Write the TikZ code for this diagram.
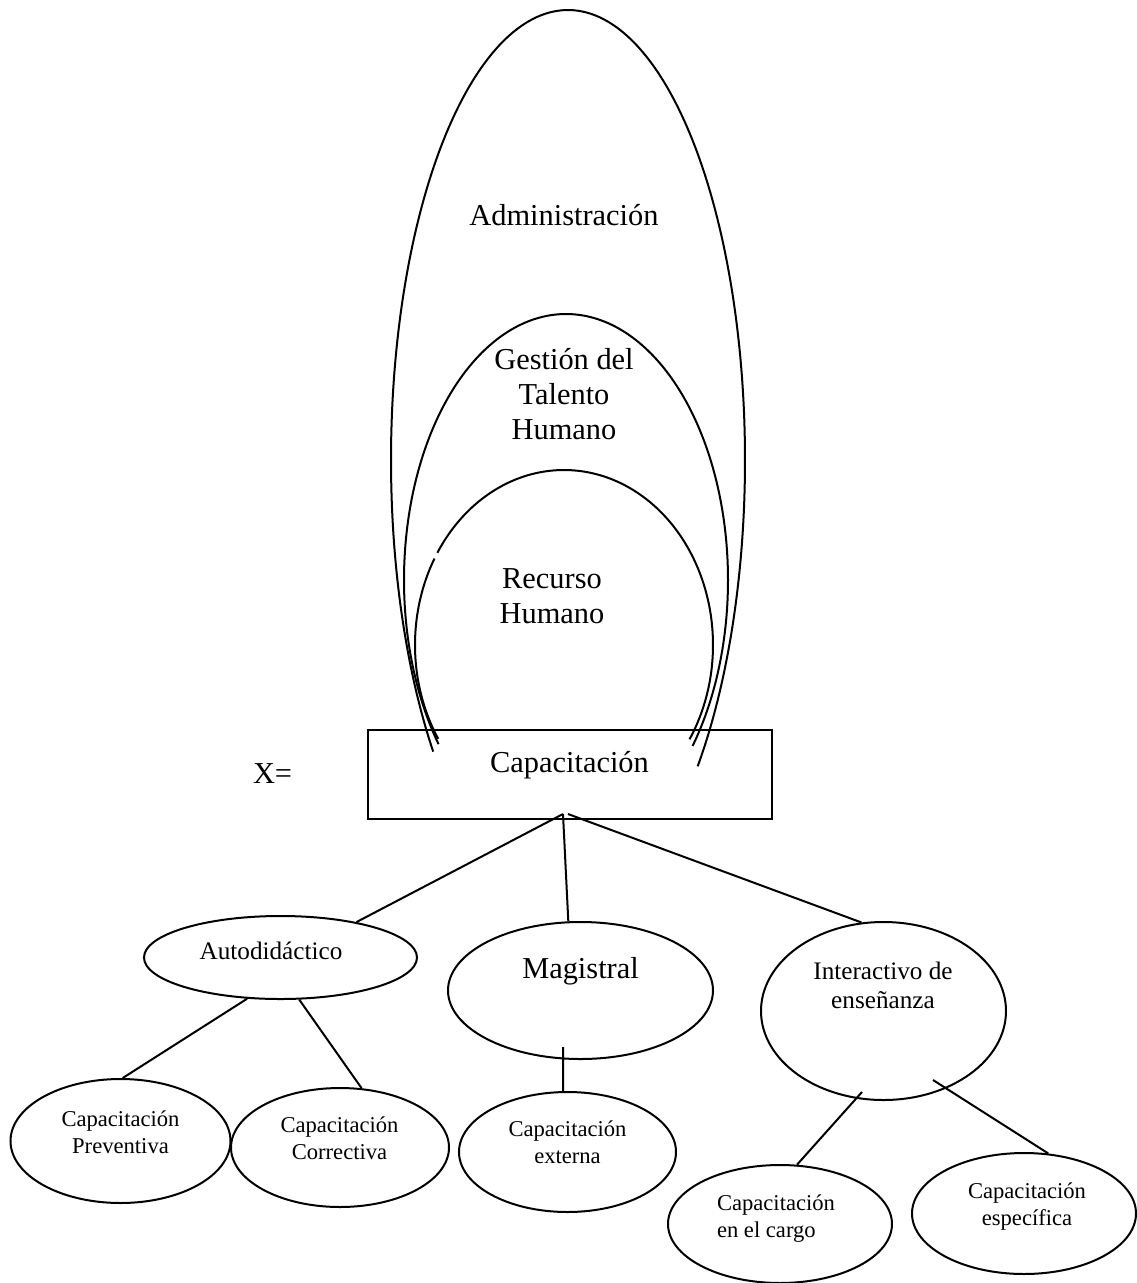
\documentclass[tikz,border=0pt]{standalone}
\usepackage{fontspec}
\setmainfont{Liberation Serif}
\usetikzlibrary{shapes.geometric}
\begin{document}
\begin{tikzpicture}[x=1pt,y=-1pt,line width=2pt,
  lbl/.style={inner sep=0pt, anchor=base, align=center},
  big/.style={font=\fontsize{30.4}{34.8}\selectfont},
  mid/.style={font=\fontsize{25.2}{29}\selectfont},
  small/.style={font=\fontsize{22.6}{26.5}\selectfont},
  ell/.style={draw, ellipse, inner sep=0pt},
  arcline/.style={line width=2pt}]

\useasboundingbox (0,0) rectangle (1136,1283);

% nested arcs
\draw[arcline] plot[domain=139.6:402.9, samples=200, smooth] ({568+177*cos(\x)},{460+450*sin(\x)});
\draw[arcline] plot[domain=141.9:398.6, samples=200, smooth] ({566+162*cos(\x)},{580+266*sin(\x)});
\draw[arcline] plot[domain=147.6:209.6, samples=60, smooth] ({564+149*cos(\x)},{645+175*sin(\x)});
\draw[arcline] plot[domain=211.8:392.6, samples=160, smooth] ({564+149*cos(\x)},{645+175*sin(\x)});

% multi-line labels: base anchor = baseline of last line
\node[lbl,big] (admin) at (564,225) {Administración};
\node[lbl,big] (gth) at (564,439) {Gestión del\\Talento\\Humano};
\node[lbl,big] (rh) at (552,623) {Recurso\\Humano};

\node[inner sep=0pt, anchor=base west, big] (xeq) at (252,783) {X=};
\node[draw, minimum width=404pt, minimum height=89pt, inner sep=0pt] (cap) at (570,774.5) {};
\node[lbl,big] (captxt) at (569.5,772) {Capacitación};

% middle row
\node[ell, minimum width=273pt, minimum height=83pt] (auto) at (280.5,957.5) {};
\node[lbl,mid] (autotxt) at (271,959) {Autodidáctico};
\node[ell, minimum width=265pt, minimum height=137pt] (mag) at (580.5,990.5) {};
\node[lbl,big] (magtxt) at (580.5,978) {Magistral};
\node[ell, minimum width=245pt, minimum height=178pt] (inter) at (883.5,1011) {};
\node[lbl,mid] (intertxt) at (883,1008) {Interactivo de\\enseñanza};

% bottom row
\node[ell, minimum width=220pt, minimum height=124pt] (prev) at (120.5,1141) {};
\node[lbl,small] (prevtxt) at (120.5,1153) {Capacitación\\Preventiva};
\node[ell, minimum width=218pt, minimum height=119pt] (corr) at (340,1147.5) {};
\node[lbl,small] (corrtxt) at (339.5,1159) {Capacitación\\Correctiva};
\node[ell, minimum width=217pt, minimum height=120pt] (ext) at (567.5,1152) {};
\node[lbl,small] (exttxt) at (567.5,1163) {Capacitación\\externa};
\node[ell, minimum width=224pt, minimum height=118pt] (cargo) at (780,1224) {};
\node[inner sep=0pt, anchor=base west, align=left, small] (cargotxt) at (716,1237) {Capacitación\\en el cargo};
\node[ell, minimum width=224pt, minimum height=121pt] (espe) at (1024,1213.5) {};
\node[lbl,small] (espetxt) at (1027,1225) {Capacitación\\específica};

% connectors
\coordinate (apexA) at (563,814);
\coordinate (apexB) at (568,814);
\coordinate (magS) at (563,1047);
\coordinate (intA) at (862,1092);
\coordinate (intB) at (933,1080);
\draw (apexA) -- (auto.25);
\draw (apexA) -- (mag.100);
\draw (apexB) -- (inter.104);
\draw (auto.231) -- (prev.88);
\draw (auto.294) -- (corr.70);
\draw (magS) -- (ext.94);
\draw (intA) -- (cargo.74);
\draw (intB) -- (espe.68);
\end{tikzpicture}
\end{document}
